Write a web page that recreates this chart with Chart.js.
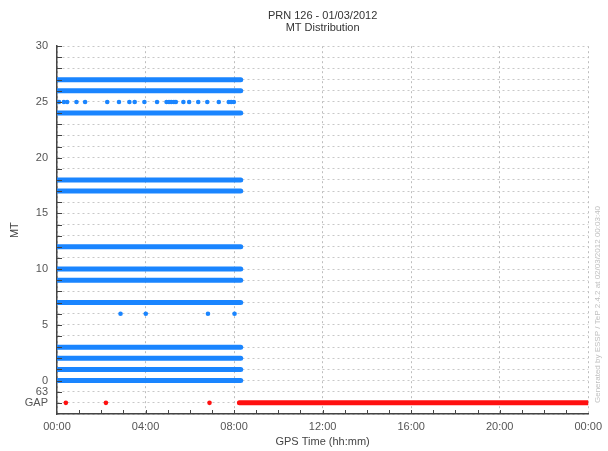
<!DOCTYPE html>
<html>
<head>
<meta charset="utf-8">
<script src="https://cdn.jsdelivr.net/npm/chart.js@4.4.0/dist/chart.umd.min.js"></script>
<style>
    html, body { margin: 0; padding: 0; background: #fff; }
    #wrap { width: 608px; height: 451px; }
</style>
</head>
<body>
<div id="wrap"><canvas id="mtChart" width="608" height="451"></canvas></div>
<script>
// chart data (x in hours, y = MT value, 63 -> -1, GAP -> -2)
const denseRows = [0, 1, 2, 3, 7, 9, 10, 12, 17, 18, 24, 26, 27];
const denseStart = 0.0;
const denseEnd = 8.3;
const mt25Times = [0.09, 0.31, 0.46, 0.88, 1.27, 2.27, 2.80, 3.27, 3.51, 3.95, 4.52, 4.95, 5.06,
                   5.16, 5.28, 5.37, 5.71, 5.97, 6.38, 6.79, 7.31, 7.76, 7.87, 7.99];
const mt6Times = [2.87, 4.01, 6.82, 8.02];
const gapTimes = [0.40, 2.21, 6.89];
const gapStart = 8.24;
const gapEnd = 24;

const GAP = -2;
const MT63 = -1;
const yTickLabels = { '-2': 'GAP', '-1': '63' };

const blue = '#1a85ff';
const red = '#ff1010';

var datasets = [];

// continuous rows (blue)
denseRows.forEach(function(mt) {
    datasets.push({
        data: [{x: denseStart, y: mt}, {x: denseEnd, y: mt}],
        showLine: true,
        borderColor: blue,
        borderWidth: 5,
        borderCapStyle: 'round',
        pointRadius: 0
    });
});

// sparse points
datasets.push({
    data: mt25Times.map(t => ({x: t, y: 25})),
    showLine: false, pointRadius: 2.3, pointBackgroundColor: blue, pointBorderWidth: 0
});
datasets.push({
    data: mt6Times.map(t => ({x: t, y: 6})),
    showLine: false, pointRadius: 2.3, pointBackgroundColor: blue, pointBorderWidth: 0
});
datasets.push({
    data: gapTimes.map(t => ({x: t, y: GAP})),
    showLine: false, pointRadius: 2.3, pointBackgroundColor: red, pointBorderWidth: 0
});
datasets.push({
    data: [{x: gapStart, y: GAP}, {x: gapEnd, y: GAP}],
    showLine: true, borderColor: red, borderWidth: 5, borderCapStyle: 'round', pointRadius: 0
});

function hhmm(v) {
    var h = v % 24;
    return (h < 10 ? '0' : '') + h + ':00';
}

// small inward tick marks + side note
const extras = {
    id: 'extras',
    afterDatasetsDraw(chart) {
        const ctx = chart.ctx;
        const xs = chart.scales.x, ys = chart.scales.y;
        const area = chart.chartArea;
        ctx.save();
        ctx.strokeStyle = '#444';
        ctx.lineWidth = 1;
        ctx.beginPath();
        for (var h = 1; h < 24; h++) {
            var px = Math.round(xs.getPixelForValue(h)) + 0.5;
            ctx.moveTo(px, area.bottom);
            ctx.lineTo(px, area.bottom - 4);
        }
        for (var v = -2; v <= 30; v++) {
            var py = Math.round(ys.getPixelForValue(v)) + 0.5;
            ctx.moveTo(area.left, py);
            ctx.lineTo(area.left + 5, py);
        }
        ctx.stroke();

        ctx.translate(602, area.bottom - 11);
        ctx.rotate(-Math.PI / 2);
        ctx.fillStyle = '#c0c0c0';
        ctx.font = '8px "Liberation Sans", Arial, sans-serif';
        ctx.textAlign = 'left';
        ctx.textBaseline = 'bottom';
        ctx.fillText('Generated by ESSP / TeP 2.4.2 at 02/03/2012 00:03:40', 0, 0);
        ctx.restore();
    }
};

Chart.defaults.font.family = '"Liberation Sans", Arial, sans-serif';
Chart.defaults.font.size = 11;
Chart.defaults.color = '#555';

new Chart(document.getElementById('mtChart'), {
    type: 'scatter',
    data: { datasets: datasets },
    plugins: [extras],
    options: {
        responsive: false,
        animation: false,
        layout: { padding: { left: 8, right: 16, top: 0, bottom: 2 } },
        plugins: {
            legend: { display: false },
            tooltip: { enabled: false },
            title: {
                display: true,
                fullSize: false,
                text: ['PRN 126 - 01/03/2012', 'MT Distribution'],
                color: '#333',
                font: { size: 11, weight: 'normal', lineHeight: 1.1 },
                padding: { top: 10, bottom: 12 }
            }
        },
        scales: {
            x: {
                type: 'linear',
                min: 0,
                max: 24,
                ticks: {
                    stepSize: 1,
                    autoSkip: false,
                    maxRotation: 0,
                    padding: 6,
                    callback: function(v) { return v % 4 === 0 ? hhmm(v) : ''; }
                },
                grid: {
                    drawTicks: false,
                    color: function(c) { return c.tick.value % 4 === 0 ? '#bdbdbd' : 'transparent'; },
                    lineWidth: 1
                },
                border: { display: true, color: '#444', width: 1.5, dash: [2, 3] },
                title: { display: true, text: 'GPS Time (hh:mm)', color: '#444', padding: { top: 6, bottom: 0 } },
                afterFit: function(scale) { scale.height = 35; }
            },
            y: {
                type: 'linear',
                min: -3,
                max: 30,
                ticks: {
                    stepSize: 1,
                    autoSkip: false,
                    padding: 9,
                    callback: function(v) {
                        if (yTickLabels[v] !== undefined) return yTickLabels[v];
                        return v % 5 === 0 ? v : '';
                    }
                },
                grid: {
                    drawTicks: false,
                    color: '#c8c8c8',
                    lineWidth: 1
                },
                border: { display: true, color: '#444', width: 1.5, dash: [2, 3] },
                title: { display: true, text: 'MT', color: '#444', padding: { top: 0, bottom: 4 } },
                afterFit: function(scale) { scale.width = 49; }
            }
        }
    }
});
</script>
</body>
</html>
